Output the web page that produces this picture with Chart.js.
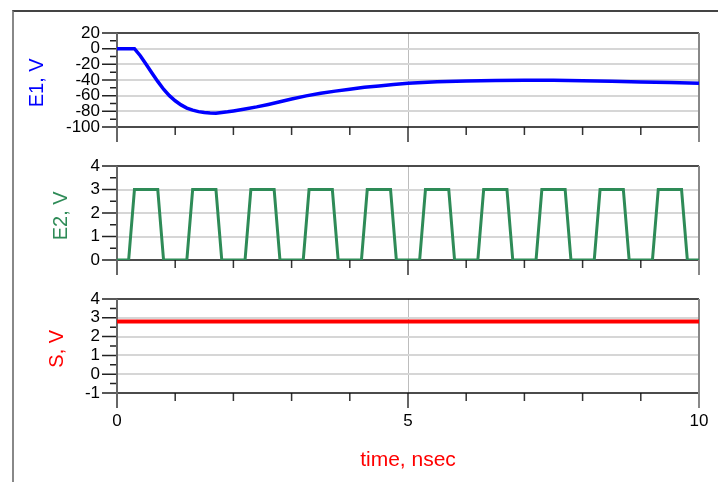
<!DOCTYPE html>
<html>
<head>
<meta charset="utf-8">
<script src="https://cdn.jsdelivr.net/npm/chart.js@4/dist/chart.umd.min.js"></script>
<style>
  html, body { margin: 0; padding: 0; background: #fff; }
  #page { position: relative; width: 718px; height: 482px; overflow: hidden; background: #fff; }
  #frame { position: absolute; left: 12px; top: 10px; width: 760px; height: 520px;
           border-top: 2px solid #444; border-left: 2px solid #888; }
  canvas { position: absolute; left: 0; }
</style>
</head>
<body>
<div id="page">
  <div id="frame"></div>
  <canvas id="panelE1" width="718" height="145" style="top:0px"></canvas>
  <canvas id="panelE2" width="718" height="130" style="top:145px"></canvas>
  <canvas id="panelS"  width="718" height="207" style="top:275px"></canvas>
</div>
<script>
// ---- time axis (ns) ----
const TIME_TICKS = [0, 1, 2, 3, 4, 5, 6, 7, 8, 9, 10];
const TIME_LABELS = [0, 5, 10];

// ---- E1 (V) ----
const E1_TIME = [0, 0.3, 0.4, 0.5, 0.6, 0.7, 0.8, 0.9, 1.0, 1.1, 1.2, 1.3, 1.4, 1.5, 1.6, 1.7, 1.8, 1.9,
                 2.0, 2.2, 2.4, 2.6, 2.8, 3.0, 3.25, 3.5, 3.75, 4.0, 4.25, 4.5, 4.75, 5.0, 5.25, 5.5,
                 6.0, 6.5, 7.0, 7.5, 8.0, 8.5, 9.0, 9.5, 10];
const E1_VOLTS = [0, 0, -9, -19.8, -31, -41.8, -51.8, -60, -66.5, -71.8, -75.8, -78.5, -80.4, -81.6, -82.2, -82.3, -81.5, -80.6,
                  -79.5, -77, -74.3, -71.2, -67.8, -64.2, -60.3, -57, -54.2, -51.7, -49.3, -47.6, -45.8, -44.2, -43.1, -42.3,
                  -41.2, -40.5, -40.2, -40.4, -41, -41.6, -42.4, -43.2, -44];
const E1_TICKS = [20, 0, -20, -40, -60, -80, -100];
const E1_MINOR = [10, -10, -30, -50, -70, -90];

// ---- E2 (V) ----
const E2_TIME = [0,
  0.2, 0.3, 0.7, 0.8,
  1.2, 1.3, 1.7, 1.8,
  2.2, 2.3, 2.7, 2.8,
  3.2, 3.3, 3.7, 3.8,
  4.2, 4.3, 4.7, 4.8,
  5.2, 5.3, 5.7, 5.8,
  6.2, 6.3, 6.7, 6.8,
  7.2, 7.3, 7.7, 7.8,
  8.2, 8.3, 8.7, 8.8,
  9.2, 9.3, 9.7, 9.8,
  10];
const E2_VOLTS = [0,
  0, 3, 3, 0,
  0, 3, 3, 0,
  0, 3, 3, 0,
  0, 3, 3, 0,
  0, 3, 3, 0,
  0, 3, 3, 0,
  0, 3, 3, 0,
  0, 3, 3, 0,
  0, 3, 3, 0,
  0, 3, 3, 0,
  0];
const E2_TICKS = [4, 3, 2, 1, 0];
const E2_MINOR = [3.5, 2.5, 1.5, 0.5];

// ---- S (V) ----
const S_TIME = [0, 10];
const S_VOLTS = [2.8, 2.8];
const S_TICKS = [4, 3, 2, 1, 0, -1];
const S_MINOR = [3.5, 2.5, 1.5, 0.5, -0.5];

const FONT = "'Liberation Sans', Arial, Helvetica, sans-serif";
Chart.defaults.font.family = FONT;

// Plot frame, axis lines and the long/short tick marks outside the plot area
const frameTicks = {
  id: 'frameTicks',
  beforeDatasetsDraw(chart, args, opts) {
    const { ctx, chartArea: a, scales: { x, y } } = chart;
    ctx.save();
    ctx.lineCap = 'butt';

    // y tick marks
    ctx.strokeStyle = '#222';
    ctx.lineWidth = 1.5;
    ctx.beginPath();
    opts.yMajor.forEach(v => {
      const p = y.getPixelForValue(v);
      ctx.moveTo(a.left - 15, p); ctx.lineTo(a.left, p);
    });
    opts.yMinor.forEach(v => {
      const p = y.getPixelForValue(v);
      ctx.moveTo(a.left - 7, p); ctx.lineTo(a.left, p);
    });
    ctx.stroke();

    // x tick marks
    ctx.strokeStyle = '#333';
    ctx.lineWidth = 1.5;
    ctx.beginPath();
    TIME_TICKS.forEach(v => {
      const p = x.getPixelForValue(v);
      const len = TIME_LABELS.includes(v) ? 15 : 8;
      ctx.moveTo(p, a.bottom); ctx.lineTo(p, a.bottom + len);
    });
    ctx.stroke();

    // top border and bottom axis
    ctx.strokeStyle = '#111';
    ctx.lineWidth = 1.5;
    ctx.beginPath();
    ctx.moveTo(a.left, a.top); ctx.lineTo(a.right, a.top);
    ctx.moveTo(a.left, a.bottom); ctx.lineTo(a.right, a.bottom);
    ctx.stroke();

    // left axis and right border, running past the bottom
    ctx.lineWidth = 2;
    ctx.strokeStyle = '#666';
    ctx.beginPath();
    ctx.moveTo(a.left, a.top); ctx.lineTo(a.left, a.bottom + 15);
    ctx.stroke();
    ctx.strokeStyle = '#888';
    ctx.beginPath();
    ctx.moveTo(a.right, a.top); ctx.lineTo(a.right, a.bottom + 15);
    ctx.stroke();

    ctx.restore();
  }
};

function makePanel(id, p) {
  const majors = p.yTicks;
  const yMin = Math.min(...majors), yMax = Math.max(...majors);
  return new Chart(document.getElementById(id), {
    type: 'line',
    data: {
      datasets: [{
        data: p.time.map((t, i) => ({ x: t, y: p.volts[i] })),
        borderColor: p.color,
        borderWidth: p.lineWidth,
        pointRadius: 0,
        tension: 0,
        fill: false
      }]
    },
    options: {
      responsive: false,
      animation: false,
      events: [],
      layout: { padding: { top: p.padTop, right: 19, left: 0, bottom: 0 } },
      plugins: {
        legend: { display: false },
        tooltip: { enabled: false },
        frameTicks: { yMajor: majors, yMinor: p.yMinor }
      },
      scales: {
        x: {
          type: 'linear',
          min: 0, max: 10,
          afterBuildTicks: s => { s.ticks = TIME_TICKS.map(v => ({ value: v })); },
          afterFit: s => { s.height = p.xHeight; s.paddingLeft = 0; s.paddingRight = 0; },
          border: { display: false },
          grid: {
            drawTicks: false,
            lineWidth: 1,
            color: c => (c.tick && c.tick.value === 5) ? '#bdbdbd' : 'rgba(0,0,0,0)'
          },
          ticks: {
            display: p.showTime,
            autoSkip: false,
            maxRotation: 0,
            padding: 18,
            color: '#000',
            font: { size: 17 },
            callback: v => TIME_LABELS.includes(v) ? String(v) : ''
          },
          title: {
            display: p.showTime,
            text: 'time, nsec',
            color: '#ff0000',
            font: { size: 21 },
            padding: { top: 0, bottom: 9 }
          }
        },
        y: {
          type: 'linear',
          min: yMin, max: yMax,
          afterBuildTicks: s => { s.ticks = majors.map(v => ({ value: v })); },
          afterFit: s => { s.width = 117; s.paddingTop = 0; s.paddingBottom = 0; },
          border: { display: false },
          grid: {
            drawTicks: false,
            lineWidth: 2,
            color: c => {
              const v = c.tick ? c.tick.value : null;
              return (v === yMin || v === yMax) ? 'rgba(0,0,0,0)' : '#d6d6d6';
            }
          },
          ticks: {
            autoSkip: false,
            padding: 17,
            color: '#000',
            font: { size: 17 },
            callback: v => String(v)
          },
          title: {
            display: true,
            text: p.title + ' ',
            color: p.color,
            font: { size: 20 },
            padding: { top: p.titlePad, bottom: 0 }
          }
        }
      }
    },
    plugins: [frameTicks]
  });
}

makePanel('panelE1', {
  time: E1_TIME, volts: E1_VOLTS, color: '#0000ff', lineWidth: 3.5,
  yTicks: E1_TICKS, yMinor: E1_MINOR, title: 'E1, V', titlePad: 25,
  padTop: 33, xHeight: 18, showTime: false
});
makePanel('panelE2', {
  time: E2_TIME, volts: E2_VOLTS, color: '#2e8b57', lineWidth: 3,
  yTicks: E2_TICKS, yMinor: E2_MINOR, title: 'E2, V', titlePad: 49,
  padTop: 21, xHeight: 15, showTime: false
});
makePanel('panelS', {
  time: S_TIME, volts: S_VOLTS, color: '#ff0000', lineWidth: 4,
  yTicks: S_TICKS, yMinor: S_MINOR, title: 'S, V', titlePad: 45,
  padTop: 24, xHeight: 89, showTime: true
});
</script>
</body>
</html>
